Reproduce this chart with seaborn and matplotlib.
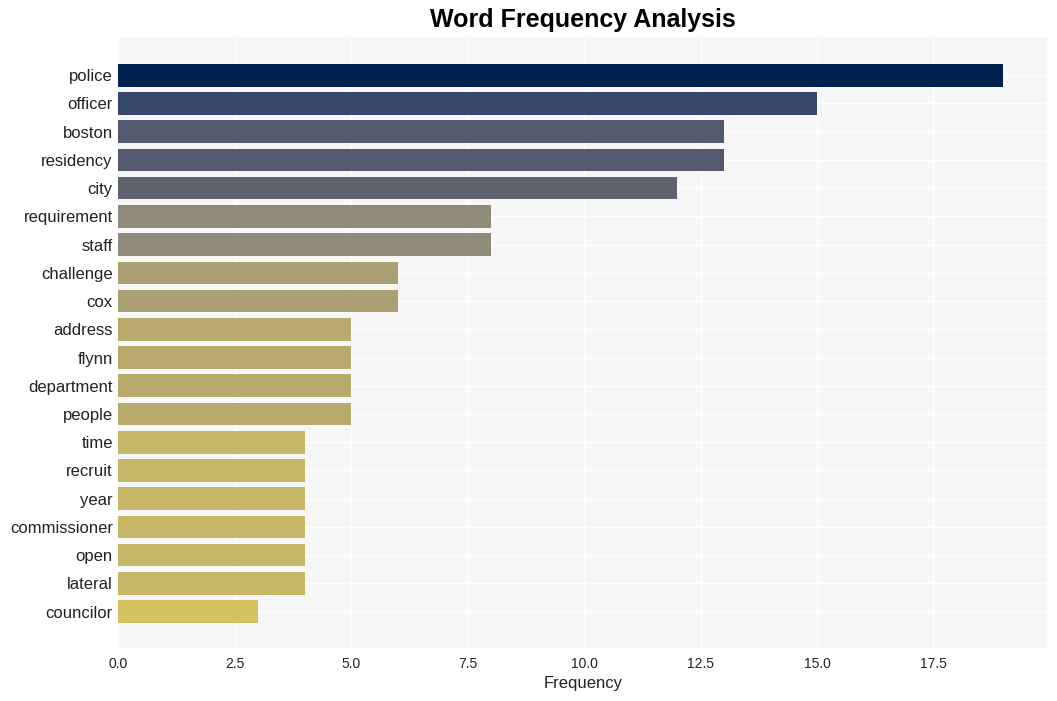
import pandas as pd
import seaborn as sns
import matplotlib.pyplot as plt

# word counts
words = ["police", "officer", "boston", "residency", "city", "requirement", "staff",
         "challenge", "cox", "address", "flynn", "department", "people", "time",
         "recruit", "year", "commissioner", "open", "lateral", "councilor"]
counts = [19, 15, 13, 13, 12, 8, 8, 6, 6, 5, 5, 5, 5, 4, 4, 4, 4, 4, 4, 3]

df = pd.DataFrame({"word": words, "count": counts})

sns.set_style("darkgrid", {"axes.facecolor": "#f7f7f7", "grid.color": "white"})
plt.rcParams['font.family'] = ['Liberation Sans', 'DejaVu Sans']

fig, ax = plt.subplots(figsize=(10.57, 7.01), dpi=100)

# colour by count, darkest for the most frequent word
sns.barplot(data=df, x="count", y="word", hue="count", palette="cividis_r",
            hue_norm=(0, max(counts)), legend=False, width=0.8, saturation=1,
            linewidth=0, ax=ax)

ax.set_ylim(len(words) - 1 + 1.28, -1.35)
ax.grid(True, axis="both", color="white", linewidth=1)
ax.set_axisbelow(True)
ax.set_title("Word Frequency Analysis", fontsize=18, fontweight="bold", pad=7, color="black")
ax.set_xlabel("Frequency", fontsize=12, color="#222222", labelpad=3)
ax.set_ylabel("")
ax.tick_params(axis="y", labelsize=12, length=0, pad=4, labelcolor="#222222")
ax.tick_params(axis="x", labelsize=10, length=0, pad=7, labelcolor="#222222")
for s in ax.spines.values():
    s.set_visible(False)

fig.subplots_adjust(left=0.112, right=0.991, top=0.947, bottom=0.076)
fig.savefig("out.png", dpi=100)
